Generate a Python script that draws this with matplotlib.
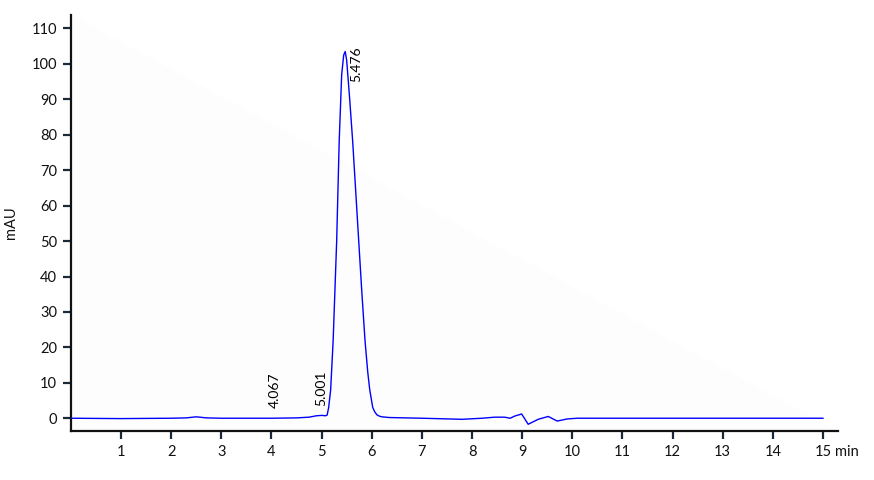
import matplotlib
matplotlib.use("Agg")
import matplotlib.pyplot as plt
from matplotlib.patches import Polygon

plt.rcParams['font.family'] = ['Lato', 'DejaVu Sans']

# Chromatogram trace (time in min, signal in mAU)
time_min = [0.0, 1.0, 2.0, 2.3, 2.5, 2.7, 3.0, 4.0, 4.5, 4.75, 4.9, 5.0, 5.08,
            5.11, 5.14, 5.18, 5.23, 5.30, 5.35, 5.40, 5.44, 5.47, 5.50, 5.56,
            5.62, 5.68, 5.74, 5.80, 5.865, 5.92, 5.96, 6.02, 6.06, 6.10, 6.15,
            6.20, 6.35, 7.0, 7.8, 8.2, 8.45, 8.65, 8.76, 8.85, 8.99, 9.12, 9.32,
            9.52, 9.7, 9.9, 10.1, 11.0, 15.0]
signal_mau = [0.0, -0.1, 0.0, 0.1, 0.4, 0.1, 0.0, 0.0, 0.1, 0.3, 0.7, 0.8, 0.7,
              0.9, 3.0, 8.0, 22.0, 50.0, 78.0, 97.0, 102.5, 103.5, 101.0, 90.0,
              78.0, 64.0, 50.0, 36.0, 22.0, 13.0, 8.0, 3.0, 1.8, 1.0, 0.6,
              0.4, 0.2, 0.0, -0.3, 0.0, 0.3, 0.3, 0.0, 0.6, 1.2, -1.7, -0.3,
              0.5, -0.8, -0.2, 0.0, 0.0, 0.0]

peak_times = [4.067, 5.001, 5.476]
peak_heights = [0.1, 0.8, 103.5]
peak_labels = ["4.067", "5.001", "5.476"]

x_ticks = list(range(1, 16))
y_ticks = list(range(0, 111, 10))
x_unit = "min"
y_label = "mAU"

fig = plt.figure(figsize=(8.74, 4.8), dpi=100)
ax = fig.add_axes([0.0812, 0.1021, 0.8776, 0.8666])

ax.add_patch(Polygon([[0, 1], [1, 0], [0, 0]], closed=True, transform=ax.transAxes,
                     facecolor='#fdfdfd', edgecolor='none', zorder=0))

ax.plot(time_min, signal_mau, color='#0000ff', lw=1.0, zorder=3)

offsets = [(0, 7), (0, 7), (8, -22)]
for t, h, lab, off in zip(peak_times, peak_heights, peak_labels, offsets):
    ax.annotate(lab, xy=(t, h), xytext=off, textcoords='offset points',
                rotation=90, ha='center', va='bottom', fontsize=10, color='black')

ax.set_xlim(0, 15.3)
ax.set_ylim(-3.6, 113.8)
ax.set_xticks(x_ticks)
ax.set_xticklabels([str(v) for v in x_ticks])
ax.set_yticks(y_ticks)
ax.set_yticklabels([str(v) for v in y_ticks])

for s in ['top', 'right']:
    ax.spines[s].set_visible(False)
for s in ['left', 'bottom']:
    ax.spines[s].set_linewidth(1.6)
    ax.spines[s].set_color('#111111')
ax.tick_params(axis='both', length=6, width=1.6, color='#1b2a3a',
               labelsize=10.5, labelcolor='#111111', pad=4)

ax.annotate(x_unit, xy=(x_ticks[-1], 0), xycoords=('data', 'axes fraction'),
            xytext=(8.5, -10), textcoords='offset points', ha='left', va='top',
            fontsize=10.5, color='#111111')

ax.set_ylabel(y_label, fontsize=10.5, color='#111111', labelpad=10)

fig.savefig("out.png", dpi=100)
